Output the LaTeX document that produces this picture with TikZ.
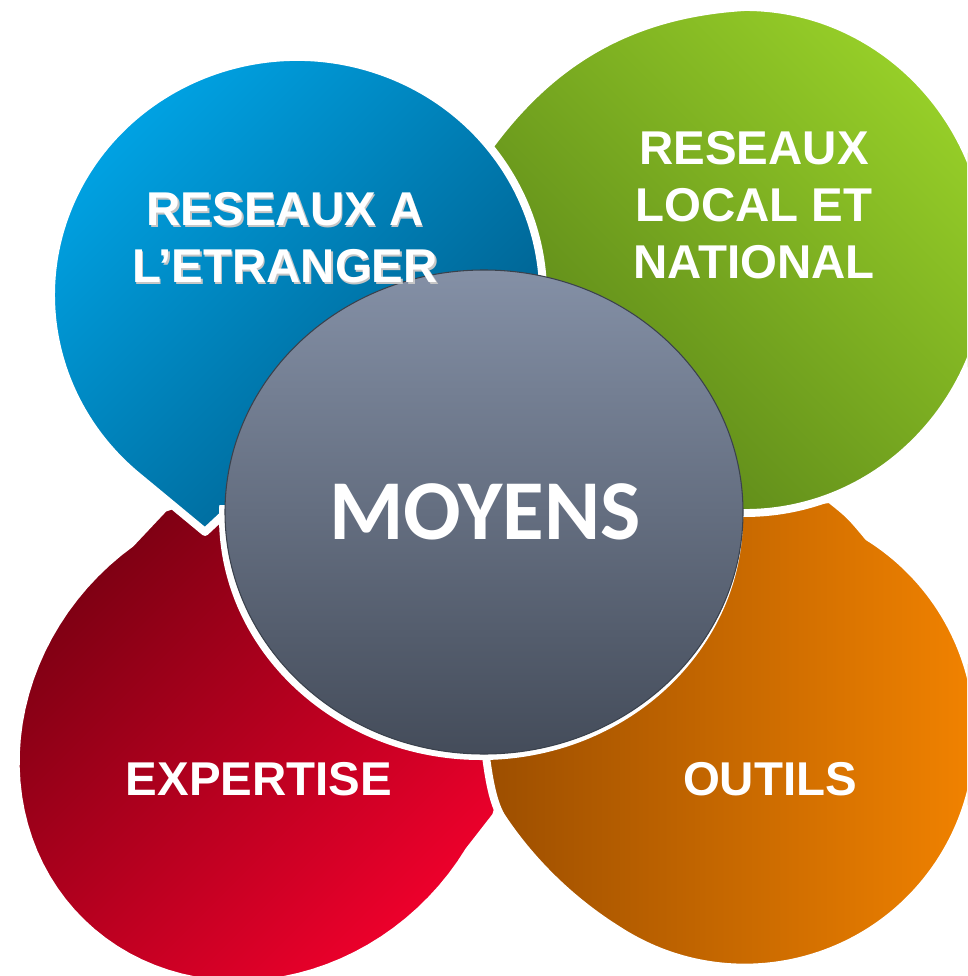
\documentclass[tikz,border=0pt]{standalone}
\usepackage{fontspec}
\setsansfont{Liberation Sans}
\newfontfamily\moyensfont{Carlito}
\definecolor{bluelight}{RGB}{0,166,232}
\definecolor{bluedark}{RGB}{0,88,132}
\definecolor{greenlight}{RGB}{150,206,40}
\definecolor{greendark}{RGB}{88,130,24}
\definecolor{redlight}{RGB}{240,0,44}
\definecolor{reddark}{RGB}{122,0,18}
\definecolor{orangelight}{RGB}{244,132,0}
\definecolor{orangedark}{RGB}{156,78,0}
\definecolor{greylight}{RGB}{132,144,166}
\definecolor{greydark}{RGB}{68,76,90}

\begin{document}
\begin{tikzpicture}[x=0.02cm, y=-0.02cm,
    petal/.style={draw=white, line width=4.5pt, line join=round},
    petaltext/.style={text=white, font=\sffamily\bfseries\fontsize{27}{32.4}\selectfont, align=center, inner sep=0pt}]
        \useasboundingbox (0,0) rectangle (967,976);
        \clip (0,0) rectangle (967,976);
        % bottom left
        \shadedraw[petal, top color=reddark, bottom color=redlight, shading angle=45]
            (250,480) -- (164,508) -- plot[variable=\t, domain=-100:105, samples=60]
            ({262-258*cos(\t)*0.7071+234*sin(\t)*0.7071}, {738+258*cos(\t)*0.7071+234*sin(\t)*0.7071})
            -- (496,816) -- (510,770) -- (480,690) -- (330,520) -- cycle;
        % bottom right
        \shadedraw[petal, left color=orangedark, right color=orangelight]
            (501,816) .. controls (530,860) and (570,900) .. (618,930)
            arc[start angle=123, end angle=-58, radius=233]
            .. controls (850,515) .. (830,499) -- (745,508) -- (620,520) -- (505,640) -- (484,740)
            .. controls (488,775) and (492,800) .. (501,816) -- cycle;
        % top right
        \shadedraw[petal, top color=greenlight, bottom color=greendark, shading angle=-45]
            (468,178) .. controls (530,80) and (610,15) .. (745,7)
            arc[start angle=-90, end angle=120, x radius=245, y radius=253]
            -- (520,300) -- cycle;
        % top left
        \shadedraw[petal, top color=bluelight, bottom color=bluedark, shading angle=45]
            (528.2,376.4) arc[start angle=20, end angle=-230, x radius=246, y radius=238]
            -- (205,532) -- (250,490) -- (420,470) -- cycle;
        % centre
        \begin{scope}
            \clip (0,505) rectangle (967,976);
            \fill[white] (481,517) ellipse [x radius=262, y radius=243];
        \end{scope}
        \shadedraw[draw=greydark!85!black, line width=0.6pt, top color=greylight, bottom color=greydark] (484,512) ellipse [x radius=259, y radius=242];

        \node[petaltext, text=gray!45] (etrangershadow) at (286.5,239.5) {RESEAUX A\\L’ETRANGER};
        \node[petaltext] (etranger) at (285,238) {RESEAUX A\\L’ETRANGER};
        \node[petaltext] (national) at (754,205) {RESEAUX\\LOCAL ET\\NATIONAL};
        \node[petaltext] (expertise) at (259,779) {EXPERTISE};
        \node[petaltext] (outils) at (770,779) {OUTILS};
        \node[text=white, font=\moyensfont\bfseries\fontsize{48.5}{58}\selectfont, inner sep=0pt] (moyens) at (485,512) {MOYENS};
\end{tikzpicture}
\end{document}
